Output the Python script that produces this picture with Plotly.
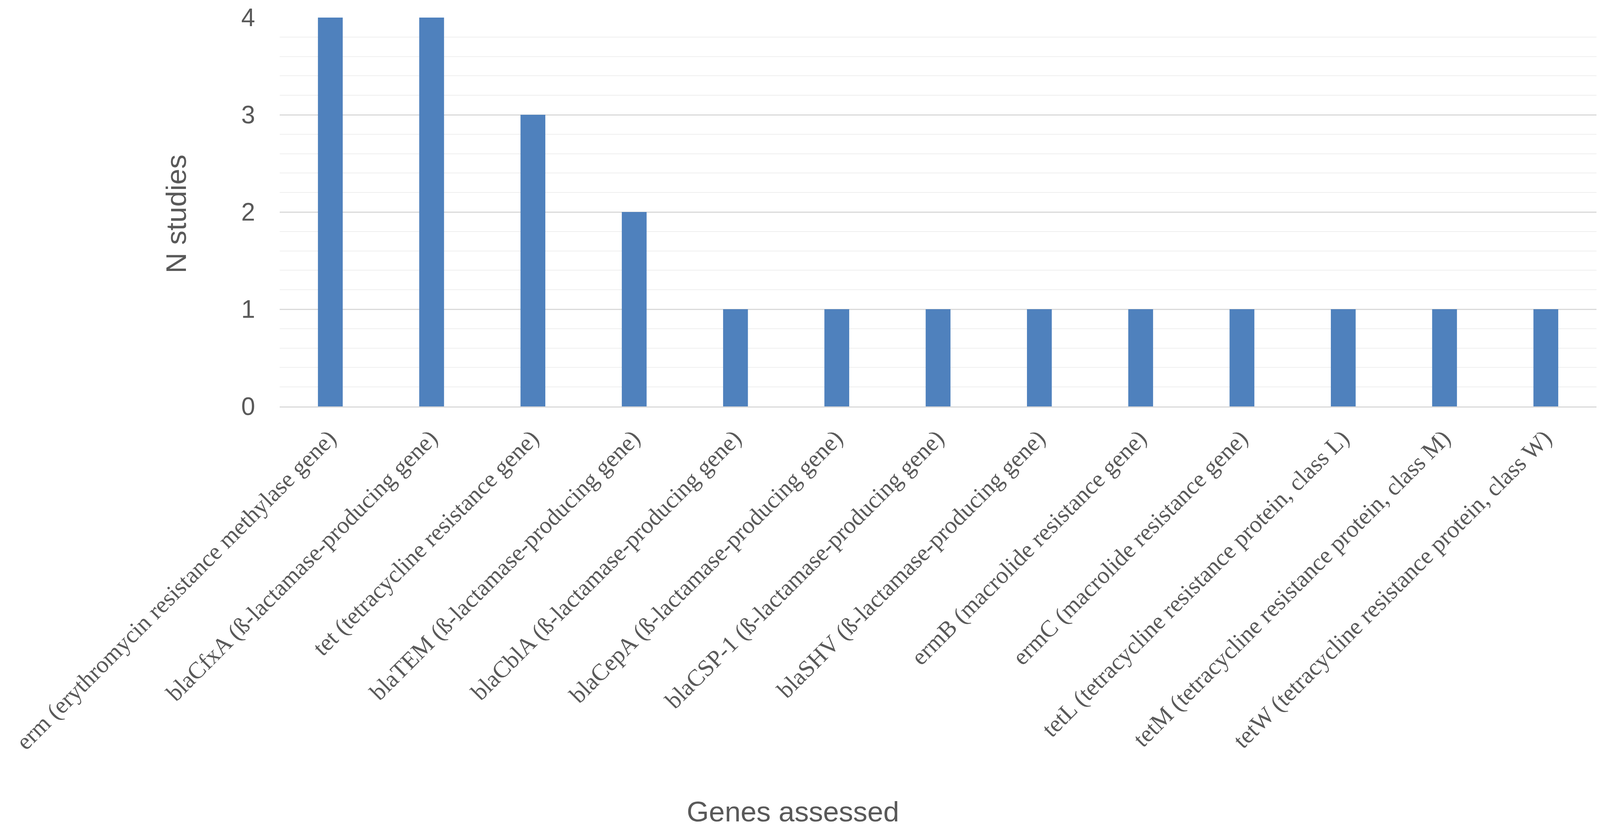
import plotly.graph_objects as go

# genes assessed and number of studies reporting each one
genes = [
    "erm (erythromycin resistance methylase gene)",
    "blaCfxA (ß-lactamase-producing gene)",
    "tet (tetracycline resistance gene)",
    "blaTEM (ß-lactamase-producing gene)",
    "blaCblA (ß-lactamase-producing gene)",
    "blaCepA (ß-lactamase-producing gene)",
    "blaCSP-1 (ß-lactamase-producing gene)",
    "blaSHV (ß-lactamase-producing gene)",
    "ermB (macrolide resistance gene)",
    "ermC (macrolide resistance gene)",
    "tetL (tetracycline resistance protein, class L)",
    "tetM (tetracycline resistance protein, class M)",
    "tetW (tetracycline resistance protein, class W)",
]
n_studies = [4, 4, 3, 2, 1, 1, 1, 1, 1, 1, 1, 1, 1]
y_ticks = [0, 1, 2, 3, 4]

# visible page is ~4096 css px wide, full height; the body adds an 8px margin
SX, SY, PAD = 4096 / 4317, 1.0, 8


def vx(x):  # reference x pixel -> figure pixel
    return round(x * SX - PAD)


def vy(y):
    return round(y * SY - PAD)


W, H = 4084, 2116
M_L, M_T = vx(755), vy(45)
M_R = W - vx(4308)
M_B = H - vy(1041)
PW, PH = W - M_L - M_R, H - M_T - M_B
GREY = "#595959"

fig = go.Figure()
fig.add_trace(go.Bar(x=genes, y=n_studies, marker=dict(color="#4f81bd", line_width=0),
                     showlegend=False))

fig.update_layout(
    width=W, height=H, autosize=False,
    margin=dict(l=M_L, r=M_R, t=M_T, b=M_B),
    paper_bgcolor="white", plot_bgcolor="white",
    bargap=0.755,
    xaxis=dict(
        tickangle=-45, automargin=False,
        tickfont=dict(family="Liberation Serif", size=61, color=GREY),
        showgrid=False, showline=True, linecolor="#d9d9d9", linewidth=3,
        ticks="", ticklabelstandoff=18, ticklabelshift=-3,
    ),
    yaxis=dict(
        range=[0, 4], tickvals=y_ticks, automargin=False,
        tickfont=dict(family="Liberation Sans", size=64, color=GREY),
        showgrid=True, gridcolor="#d9d9d9", gridwidth=3,
        zeroline=False, showline=False, ticks="", ticklabelstandoff=62,
        minor=dict(dtick=0.2, showgrid=True, gridcolor="#efefef", gridwidth=2),
    ),
    annotations=[
        dict(text="N studies", xref="paper", yref="paper",
             x=(vx(474) - M_L) / PW, y=1 - (vy(548) - M_T) / PH,
             xanchor="center", yanchor="middle", textangle=-90, showarrow=False,
             font=dict(family="Liberation Sans", size=73, color=GREY)),
        dict(text="Genes assessed", xref="paper", yref="paper",
             x=(vx(2140) - M_L) / PW, y=1 - (vy(2078) - M_T) / PH,
             xanchor="center", yanchor="middle", showarrow=False,
             font=dict(family="Liberation Sans", size=73, color=GREY)),
    ],
)

fig.write_html("out.html")
